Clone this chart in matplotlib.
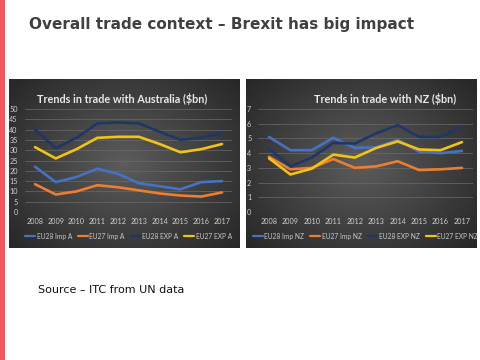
import numpy as np
import matplotlib
matplotlib.use("Agg")
import matplotlib.pyplot as plt
from matplotlib.patches import Rectangle

plt.rcParams["font.family"] = ["Lato", "DejaVu Sans"]

years = ["2008", "2009", "2010", "2011", "2012", "2013", "2014", "2015", "2016", "2017"]

# Australia ($bn)
eu28_imp_a = [22, 14.5, 17, 21, 18.5, 14, 12.5, 11, 14.5, 15]
eu27_imp_a = [13.5, 8.5, 10, 13, 12, 10.5, 9, 8, 7.5, 9.5]
eu28_exp_a = [40, 31, 36, 43, 43.5, 43, 39, 35, 36, 38.5]
eu27_exp_a = [31.5, 26, 30.5, 36, 36.5, 36.5, 33, 29, 30.5, 33]

# NZ ($bn)
eu28_imp_nz = [5.1, 4.2, 4.2, 5.05, 4.35, 4.4, 4.9, 4.1, 4.0, 4.15]
eu27_imp_nz = [3.75, 2.9, 3.0, 3.6, 3.0, 3.1, 3.45, 2.85, 2.9, 3.0]
eu28_exp_nz = [4.3, 3.1, 3.7, 4.7, 4.65, 5.35, 5.9, 5.1, 5.1, 5.8]
eu27_exp_nz = [3.65, 2.55, 2.95, 3.9, 3.7, 4.35, 4.8, 4.25, 4.2, 4.75]

colors = ["#4472C4", "#ED7D31", "#1F3768", "#F2C314"]
W, H = 480, 360


def fr(x0, y0, x1, y1):
    # pixel box -> figure fraction rect
    return [x0 / W, 1 - y1 / H, (x1 - x0) / W, (y1 - y0) / H]


def panel_bg(fig, box):
    bg = fig.add_axes(fr(*box))
    yy, xx = np.mgrid[-1:1:200j, -1:1:200j]
    r = np.sqrt(xx ** 2 + (yy * 0.9) ** 2)
    img = 0.36 - 0.21 * np.clip(r / 1.35, 0, 1)
    bg.imshow(np.dstack([img, img, img]), extent=[0, 1, 0, 1], aspect="auto")
    bg.set_axis_off()


def trade_chart(fig, rect, series, labels, ymax, step, title, title_x):
    ax = fig.add_axes(rect)
    ax.patch.set_alpha(0)
    x = np.arange(len(years))
    for vals, c, lab in zip(series, colors, labels):
        ax.plot(x, vals, color=c, lw=1.9, label=lab, solid_capstyle="round")
    ax.set_xlim(-0.5, len(years) - 0.5)
    ax.set_ylim(0, ymax)
    ax.set_yticks(np.arange(0, ymax + 0.01, step))
    ax.set_xticks(x)
    ax.set_xticklabels(years)
    ax.grid(axis="y", color="#6a6a6a", lw=0.5)
    ax.set_axisbelow(True)
    for s in ax.spines.values():
        s.set_visible(False)
    ax.tick_params(length=0, colors="#d0d0d0", labelsize=5.2)
    ax.tick_params(axis="x", pad=4)
    ax.tick_params(axis="y", pad=5)
    ax.text(title_x, 1.1, title, transform=ax.transAxes, ha="center",
            va="center", color="#e8e8e8", fontsize=7.8, fontweight="bold")
    leg = ax.legend(loc="upper center", bbox_to_anchor=(0.5, -0.2), ncol=4,
                    frameon=False, fontsize=4.8, labelcolor="#c8c8c8",
                    handlelength=1.5, columnspacing=0.9, handletextpad=0.2,
                    borderpad=0, borderaxespad=0)
    for ln in leg.get_lines():
        ln.set_linewidth(1.6)
    return ax


fig = plt.figure(figsize=(4.8, 3.6), dpi=100)
fig.patch.set_facecolor("white")
fig.add_artist(Rectangle((0, 0), 5 / W, 1, transform=fig.transFigure,
                         color="#F2575D", lw=0))

fig.text(29 / W, 1 - 25 / H, "Overall trade context \u2013 Brexit has big impact",
         fontsize=11, fontweight="bold", color="#404040", va="center",
         family="DejaVu Sans")

panel_bg(fig, (9, 79, 240, 248))
panel_bg(fig, (246, 79, 476, 248))

trade_chart(fig, fr(24.6, 109, 232.4, 212),
            [eu28_imp_a, eu27_imp_a, eu28_exp_a, eu27_exp_a],
            ["EU28 Imp A", "EU27 Imp A", "EU28 EXP A", "EU27 EXP A"],
            50, 5, "Trends in trade with Australia ($bn)", 0.47)
trade_chart(fig, fr(258.3, 109, 472.7, 212),
            [eu28_imp_nz, eu27_imp_nz, eu28_exp_nz, eu27_exp_nz],
            ["EU28 Imp NZ", "EU27 Imp NZ", "EU28 EXP NZ", "EU27 EXP NZ"],
            7, 1, "Trends in trade with NZ ($bn)", 0.59)

fig.text(38 / W, 1 - 290 / H, "Source \u2013 ITC from UN data", fontsize=8,
         color="#111111", va="center", family="DejaVu Sans")

fig.savefig("out.png", dpi=100)
